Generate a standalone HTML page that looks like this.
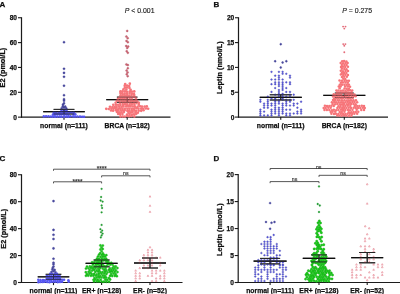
<!DOCTYPE html>
<html><head><meta charset="utf-8"><style>
html,body{margin:0;padding:0;background:#fff;width:400px;height:294px;overflow:hidden}
svg{display:block;font-family:"Liberation Sans", sans-serif}
</style></head><body>
<svg width="400" height="294" viewBox="0 0 400 294">
<defs><filter id="b" filterUnits="userSpaceOnUse" x="0" y="0" width="400" height="294"><feGaussianBlur stdDeviation="0.35"/></filter></defs><rect width="400" height="294" fill="#fff"/>
<g filter="url(#b)">
<line x1="43.20" y1="111.70" x2="84.80" y2="111.70" stroke="#111" stroke-width="1.2"/>
<line x1="53.60" y1="109.40" x2="74.40" y2="109.40" stroke="#222" stroke-width="0.95"/>
<line x1="53.60" y1="114.00" x2="74.40" y2="114.00" stroke="#222" stroke-width="0.95"/>
<line x1="64.00" y1="109.40" x2="64.00" y2="114.00" stroke="#222" stroke-width="0.95"/>
<line x1="106.20" y1="99.70" x2="148.20" y2="99.70" stroke="#111" stroke-width="1.2"/>
<line x1="116.90" y1="97.10" x2="137.50" y2="97.10" stroke="#222" stroke-width="0.95"/>
<line x1="116.90" y1="102.30" x2="137.50" y2="102.30" stroke="#222" stroke-width="0.95"/>
<line x1="127.20" y1="97.10" x2="127.20" y2="102.30" stroke="#222" stroke-width="0.95"/>
<line x1="21.50" y1="17.25" x2="21.50" y2="117.65" stroke="#1a1a1a" stroke-width="1.2"/>
<line x1="21.00" y1="117.15" x2="170.50" y2="117.15" stroke="#1a1a1a" stroke-width="1.2"/>
<line x1="18.00" y1="117.15" x2="21.50" y2="117.15" stroke="#1a1a1a" stroke-width="1.1"/>
<text x="17.00" y="119.55" font-size="6.6" font-weight="bold" text-anchor="end" fill="#111" stroke="#111" stroke-width="0.25" >0</text>
<line x1="18.00" y1="92.30" x2="21.50" y2="92.30" stroke="#1a1a1a" stroke-width="1.1"/>
<text x="17.00" y="94.70" font-size="6.6" font-weight="bold" text-anchor="end" fill="#111" stroke="#111" stroke-width="0.25" >20</text>
<line x1="18.00" y1="67.45" x2="21.50" y2="67.45" stroke="#1a1a1a" stroke-width="1.1"/>
<text x="17.00" y="69.85" font-size="6.6" font-weight="bold" text-anchor="end" fill="#111" stroke="#111" stroke-width="0.25" >40</text>
<line x1="18.00" y1="42.60" x2="21.50" y2="42.60" stroke="#1a1a1a" stroke-width="1.1"/>
<text x="17.00" y="45.00" font-size="6.6" font-weight="bold" text-anchor="end" fill="#111" stroke="#111" stroke-width="0.25" >60</text>
<line x1="18.00" y1="17.75" x2="21.50" y2="17.75" stroke="#1a1a1a" stroke-width="1.1"/>
<text x="17.00" y="20.15" font-size="6.6" font-weight="bold" text-anchor="end" fill="#111" stroke="#111" stroke-width="0.25" >80</text>
<line x1="64.00" y1="117.15" x2="64.00" y2="119.75" stroke="#1a1a1a" stroke-width="1.1"/>
<text x="64.00" y="127.90" font-size="6.8" font-weight="bold" text-anchor="middle" fill="#111" stroke="#111" stroke-width="0.25" >normal (n=111)</text>
<line x1="127.20" y1="117.15" x2="127.20" y2="119.75" stroke="#1a1a1a" stroke-width="1.1"/>
<text x="127.20" y="127.90" font-size="6.8" font-weight="bold" text-anchor="middle" fill="#111" stroke="#111" stroke-width="0.25" >BRCA (n=182)</text>
<text x="0" y="0" font-size="7.3" font-weight="bold" text-anchor="middle" fill="#111" stroke="#111" stroke-width="0.25" transform="translate(5.0,67.6) rotate(-90)">E2 (pmol/L)</text>
<line x1="259.75" y1="97.40" x2="301.75" y2="97.40" stroke="#111" stroke-width="1.2"/>
<line x1="269.75" y1="94.80" x2="291.75" y2="94.80" stroke="#222" stroke-width="0.95"/>
<line x1="269.75" y1="100.00" x2="291.75" y2="100.00" stroke="#222" stroke-width="0.95"/>
<line x1="280.75" y1="94.80" x2="280.75" y2="100.00" stroke="#222" stroke-width="0.95"/>
<line x1="323.20" y1="95.30" x2="365.40" y2="95.30" stroke="#111" stroke-width="1.2"/>
<line x1="334.80" y1="93.00" x2="353.80" y2="93.00" stroke="#222" stroke-width="0.95"/>
<line x1="334.80" y1="97.60" x2="353.80" y2="97.60" stroke="#222" stroke-width="0.95"/>
<line x1="344.30" y1="93.00" x2="344.30" y2="97.60" stroke="#222" stroke-width="0.95"/>
<line x1="238.50" y1="17.25" x2="238.50" y2="117.60" stroke="#1a1a1a" stroke-width="1.2"/>
<line x1="238.00" y1="117.10" x2="388.00" y2="117.10" stroke="#1a1a1a" stroke-width="1.2"/>
<line x1="235.00" y1="117.10" x2="238.50" y2="117.10" stroke="#1a1a1a" stroke-width="1.1"/>
<text x="234.30" y="119.50" font-size="6.6" font-weight="bold" text-anchor="end" fill="#111" stroke="#111" stroke-width="0.25" >0</text>
<line x1="235.00" y1="92.26" x2="238.50" y2="92.26" stroke="#1a1a1a" stroke-width="1.1"/>
<text x="234.30" y="94.66" font-size="6.6" font-weight="bold" text-anchor="end" fill="#111" stroke="#111" stroke-width="0.25" >5</text>
<line x1="235.00" y1="67.42" x2="238.50" y2="67.42" stroke="#1a1a1a" stroke-width="1.1"/>
<text x="234.30" y="69.83" font-size="6.6" font-weight="bold" text-anchor="end" fill="#111" stroke="#111" stroke-width="0.25" >10</text>
<line x1="235.00" y1="42.59" x2="238.50" y2="42.59" stroke="#1a1a1a" stroke-width="1.1"/>
<text x="234.30" y="44.99" font-size="6.6" font-weight="bold" text-anchor="end" fill="#111" stroke="#111" stroke-width="0.25" >15</text>
<line x1="235.00" y1="17.75" x2="238.50" y2="17.75" stroke="#1a1a1a" stroke-width="1.1"/>
<text x="234.30" y="20.15" font-size="6.6" font-weight="bold" text-anchor="end" fill="#111" stroke="#111" stroke-width="0.25" >20</text>
<line x1="280.75" y1="117.10" x2="280.75" y2="119.70" stroke="#1a1a1a" stroke-width="1.1"/>
<text x="280.75" y="127.85" font-size="6.8" font-weight="bold" text-anchor="middle" fill="#111" stroke="#111" stroke-width="0.25" >normal (n=111)</text>
<line x1="344.30" y1="117.10" x2="344.30" y2="119.70" stroke="#1a1a1a" stroke-width="1.1"/>
<text x="344.30" y="127.85" font-size="6.8" font-weight="bold" text-anchor="middle" fill="#111" stroke="#111" stroke-width="0.25" >BRCA (n=182)</text>
<text x="0" y="0" font-size="7.3" font-weight="bold" text-anchor="middle" fill="#111" stroke="#111" stroke-width="0.25" transform="translate(221.6,67.6) rotate(-90)">Leptin (nmol/L)</text>
<line x1="37.75" y1="276.80" x2="69.25" y2="276.80" stroke="#111" stroke-width="1.2"/>
<line x1="45.70" y1="274.30" x2="61.30" y2="274.30" stroke="#222" stroke-width="0.95"/>
<line x1="45.70" y1="279.30" x2="61.30" y2="279.30" stroke="#222" stroke-width="0.95"/>
<line x1="53.50" y1="274.30" x2="53.50" y2="279.30" stroke="#222" stroke-width="0.95"/>
<line x1="85.60" y1="263.40" x2="117.60" y2="263.40" stroke="#111" stroke-width="1.2"/>
<line x1="93.60" y1="260.00" x2="109.60" y2="260.00" stroke="#222" stroke-width="0.95"/>
<line x1="93.60" y1="266.80" x2="109.60" y2="266.80" stroke="#222" stroke-width="0.95"/>
<line x1="101.60" y1="260.00" x2="101.60" y2="266.80" stroke="#222" stroke-width="0.95"/>
<line x1="134.00" y1="263.00" x2="166.00" y2="263.00" stroke="#111" stroke-width="1.2"/>
<line x1="142.00" y1="258.00" x2="158.00" y2="258.00" stroke="#222" stroke-width="0.95"/>
<line x1="142.00" y1="268.00" x2="158.00" y2="268.00" stroke="#222" stroke-width="0.95"/>
<line x1="150.00" y1="258.00" x2="150.00" y2="268.00" stroke="#222" stroke-width="0.95"/>
<line x1="21.50" y1="174.25" x2="21.50" y2="283.00" stroke="#1a1a1a" stroke-width="1.2"/>
<line x1="21.00" y1="282.50" x2="182.50" y2="282.50" stroke="#1a1a1a" stroke-width="1.2"/>
<line x1="18.00" y1="282.50" x2="21.50" y2="282.50" stroke="#1a1a1a" stroke-width="1.1"/>
<text x="17.00" y="284.90" font-size="6.6" font-weight="bold" text-anchor="end" fill="#111" stroke="#111" stroke-width="0.25" >0</text>
<line x1="18.00" y1="255.56" x2="21.50" y2="255.56" stroke="#1a1a1a" stroke-width="1.1"/>
<text x="17.00" y="257.96" font-size="6.6" font-weight="bold" text-anchor="end" fill="#111" stroke="#111" stroke-width="0.25" >20</text>
<line x1="18.00" y1="228.62" x2="21.50" y2="228.62" stroke="#1a1a1a" stroke-width="1.1"/>
<text x="17.00" y="231.03" font-size="6.6" font-weight="bold" text-anchor="end" fill="#111" stroke="#111" stroke-width="0.25" >40</text>
<line x1="18.00" y1="201.69" x2="21.50" y2="201.69" stroke="#1a1a1a" stroke-width="1.1"/>
<text x="17.00" y="204.09" font-size="6.6" font-weight="bold" text-anchor="end" fill="#111" stroke="#111" stroke-width="0.25" >60</text>
<line x1="18.00" y1="174.75" x2="21.50" y2="174.75" stroke="#1a1a1a" stroke-width="1.1"/>
<text x="17.00" y="177.15" font-size="6.6" font-weight="bold" text-anchor="end" fill="#111" stroke="#111" stroke-width="0.25" >80</text>
<line x1="53.50" y1="282.50" x2="53.50" y2="285.10" stroke="#1a1a1a" stroke-width="1.1"/>
<text x="53.50" y="293.25" font-size="6.8" font-weight="bold" text-anchor="middle" fill="#111" stroke="#111" stroke-width="0.25" >normal (n=111)</text>
<line x1="101.60" y1="282.50" x2="101.60" y2="285.10" stroke="#1a1a1a" stroke-width="1.1"/>
<text x="101.60" y="293.25" font-size="6.8" font-weight="bold" text-anchor="middle" fill="#111" stroke="#111" stroke-width="0.25" >ER+ (n=128)</text>
<line x1="150.00" y1="282.50" x2="150.00" y2="285.10" stroke="#1a1a1a" stroke-width="1.1"/>
<text x="150.00" y="293.25" font-size="6.8" font-weight="bold" text-anchor="middle" fill="#111" stroke="#111" stroke-width="0.25" >ER- (n=52)</text>
<text x="0" y="0" font-size="7.3" font-weight="bold" text-anchor="middle" fill="#111" stroke="#111" stroke-width="0.25" transform="translate(5.5,228.8) rotate(-90)">E2 (pmol/L)</text>
<line x1="253.60" y1="261.15" x2="286.60" y2="261.15" stroke="#111" stroke-width="1.2"/>
<line x1="260.10" y1="258.40" x2="280.10" y2="258.40" stroke="#222" stroke-width="0.95"/>
<line x1="260.10" y1="263.90" x2="280.10" y2="263.90" stroke="#222" stroke-width="0.95"/>
<line x1="270.10" y1="258.40" x2="270.10" y2="263.90" stroke="#222" stroke-width="0.95"/>
<line x1="302.80" y1="258.40" x2="335.20" y2="258.40" stroke="#111" stroke-width="1.2"/>
<line x1="311.10" y1="254.90" x2="326.90" y2="254.90" stroke="#222" stroke-width="0.95"/>
<line x1="311.10" y1="261.90" x2="326.90" y2="261.90" stroke="#222" stroke-width="0.95"/>
<line x1="319.00" y1="254.90" x2="319.00" y2="261.90" stroke="#222" stroke-width="0.95"/>
<line x1="351.20" y1="257.70" x2="383.20" y2="257.70" stroke="#111" stroke-width="1.2"/>
<line x1="359.20" y1="252.50" x2="375.20" y2="252.50" stroke="#222" stroke-width="0.95"/>
<line x1="359.20" y1="262.80" x2="375.20" y2="262.80" stroke="#222" stroke-width="0.95"/>
<line x1="367.20" y1="252.50" x2="367.20" y2="262.80" stroke="#222" stroke-width="0.95"/>
<line x1="238.20" y1="174.10" x2="238.20" y2="283.00" stroke="#1a1a1a" stroke-width="1.2"/>
<line x1="237.70" y1="282.50" x2="400.50" y2="282.50" stroke="#1a1a1a" stroke-width="1.2"/>
<line x1="234.70" y1="282.50" x2="238.20" y2="282.50" stroke="#1a1a1a" stroke-width="1.1"/>
<text x="233.90" y="284.90" font-size="6.6" font-weight="bold" text-anchor="end" fill="#111" stroke="#111" stroke-width="0.25" >0</text>
<line x1="234.70" y1="255.53" x2="238.20" y2="255.53" stroke="#1a1a1a" stroke-width="1.1"/>
<text x="233.90" y="257.93" font-size="6.6" font-weight="bold" text-anchor="end" fill="#111" stroke="#111" stroke-width="0.25" >5</text>
<line x1="234.70" y1="228.55" x2="238.20" y2="228.55" stroke="#1a1a1a" stroke-width="1.1"/>
<text x="233.90" y="230.95" font-size="6.6" font-weight="bold" text-anchor="end" fill="#111" stroke="#111" stroke-width="0.25" >10</text>
<line x1="234.70" y1="201.57" x2="238.20" y2="201.57" stroke="#1a1a1a" stroke-width="1.1"/>
<text x="233.90" y="203.97" font-size="6.6" font-weight="bold" text-anchor="end" fill="#111" stroke="#111" stroke-width="0.25" >15</text>
<line x1="234.70" y1="174.60" x2="238.20" y2="174.60" stroke="#1a1a1a" stroke-width="1.1"/>
<text x="233.90" y="177.00" font-size="6.6" font-weight="bold" text-anchor="end" fill="#111" stroke="#111" stroke-width="0.25" >20</text>
<line x1="270.10" y1="282.50" x2="270.10" y2="285.10" stroke="#1a1a1a" stroke-width="1.1"/>
<text x="270.10" y="293.25" font-size="6.8" font-weight="bold" text-anchor="middle" fill="#111" stroke="#111" stroke-width="0.25" >normal (n=111)</text>
<line x1="319.00" y1="282.50" x2="319.00" y2="285.10" stroke="#1a1a1a" stroke-width="1.1"/>
<text x="319.00" y="293.25" font-size="6.8" font-weight="bold" text-anchor="middle" fill="#111" stroke="#111" stroke-width="0.25" >ER+ (n=128)</text>
<line x1="367.20" y1="282.50" x2="367.20" y2="285.10" stroke="#1a1a1a" stroke-width="1.1"/>
<text x="367.20" y="293.25" font-size="6.8" font-weight="bold" text-anchor="middle" fill="#111" stroke="#111" stroke-width="0.25" >ER- (n=52)</text>
<text x="0" y="0" font-size="7.3" font-weight="bold" text-anchor="middle" fill="#111" stroke="#111" stroke-width="0.25" transform="translate(221.7,229.6) rotate(-90)">Leptin (nmol/L)</text>
<g fill="#4a4aa0" stroke="#383890" stroke-width="0.4">
<circle cx="64.00" cy="42.20" r="1.05"/>
<circle cx="64.00" cy="68.80" r="1.05"/>
<circle cx="64.00" cy="72.90" r="1.05"/>
<circle cx="64.00" cy="76.80" r="1.05"/>
<circle cx="64.00" cy="85.70" r="1.05"/>
<circle cx="64.00" cy="95.20" r="1.05"/>
<circle cx="64.00" cy="99.20" r="1.05"/>
<circle cx="64.00" cy="100.80" r="1.05"/>
<circle cx="64.00" cy="103.30" r="1.05"/>
<circle cx="63.00" cy="104.60" r="1.05"/>
<circle cx="62.80" cy="106.40" r="1.05"/>
<circle cx="65.20" cy="106.60" r="1.05"/>
<circle cx="64.00" cy="107.60" r="1.05"/>
<circle cx="61.70" cy="108.20" r="1.05"/>
<circle cx="66.30" cy="108.40" r="1.05"/>
</g>
<g fill="#5656f2">
<circle cx="43.78" cy="116.42" r="1.3"/>
<circle cx="46.08" cy="116.24" r="1.3"/>
<circle cx="48.45" cy="116.36" r="1.3"/>
<circle cx="50.80" cy="116.48" r="1.3"/>
<circle cx="52.74" cy="116.58" r="1.3"/>
<circle cx="55.08" cy="116.72" r="1.3"/>
<circle cx="57.39" cy="116.60" r="1.3"/>
<circle cx="59.65" cy="116.55" r="1.3"/>
<circle cx="61.47" cy="116.72" r="1.3"/>
<circle cx="64.13" cy="116.73" r="1.3"/>
<circle cx="66.50" cy="116.44" r="1.3"/>
<circle cx="68.47" cy="116.76" r="1.3"/>
<circle cx="70.51" cy="116.28" r="1.3"/>
<circle cx="73.28" cy="116.46" r="1.3"/>
<circle cx="75.13" cy="116.50" r="1.3"/>
<circle cx="77.41" cy="116.55" r="1.3"/>
<circle cx="79.99" cy="116.61" r="1.3"/>
<circle cx="82.21" cy="116.79" r="1.3"/>
<circle cx="84.05" cy="116.72" r="1.3"/>
<circle cx="52.99" cy="114.59" r="1.3"/>
<circle cx="54.83" cy="114.75" r="1.3"/>
<circle cx="57.12" cy="114.29" r="1.3"/>
<circle cx="59.79" cy="114.30" r="1.3"/>
<circle cx="61.70" cy="114.34" r="1.3"/>
<circle cx="64.16" cy="114.77" r="1.3"/>
<circle cx="66.32" cy="114.28" r="1.3"/>
<circle cx="68.40" cy="114.78" r="1.3"/>
<circle cx="73.30" cy="114.44" r="1.3"/>
<circle cx="75.31" cy="114.27" r="1.3"/>
<circle cx="53.82" cy="112.67" r="1.3"/>
<circle cx="55.85" cy="112.82" r="1.3"/>
<circle cx="58.65" cy="112.84" r="1.3"/>
<circle cx="60.60" cy="112.61" r="1.3"/>
<circle cx="62.93" cy="112.64" r="1.3"/>
<circle cx="65.39" cy="112.60" r="1.3"/>
<circle cx="67.51" cy="112.44" r="1.3"/>
<circle cx="69.91" cy="112.61" r="1.3"/>
<circle cx="71.58" cy="112.55" r="1.3"/>
<circle cx="73.84" cy="112.67" r="1.3"/>
<circle cx="61.49" cy="110.73" r="1.3"/>
<circle cx="64.11" cy="110.56" r="1.3"/>
<circle cx="66.39" cy="110.36" r="1.3"/>
</g>
<g fill="#d06474" stroke="#a84a5a" stroke-width="0.35">
<circle cx="127.20" cy="30.90" r="1.0"/>
<circle cx="126.40" cy="36.60" r="1.0"/>
<circle cx="127.70" cy="38.20" r="1.0"/>
<circle cx="126.50" cy="40.90" r="1.0"/>
<circle cx="127.90" cy="42.20" r="1.0"/>
<circle cx="126.20" cy="46.00" r="1.0"/>
<circle cx="128.20" cy="46.60" r="1.0"/>
<circle cx="127.20" cy="48.00" r="1.0"/>
<circle cx="126.70" cy="51.20" r="1.0"/>
<circle cx="127.80" cy="52.80" r="1.0"/>
<circle cx="126.40" cy="64.40" r="1.0"/>
<circle cx="127.90" cy="65.10" r="1.0"/>
<circle cx="127.80" cy="68.30" r="1.0"/>
<circle cx="126.60" cy="70.60" r="1.0"/>
<circle cx="127.60" cy="72.40" r="1.0"/>
<circle cx="126.70" cy="74.30" r="1.0"/>
<circle cx="127.70" cy="76.20" r="1.0"/>
</g>
<g fill="#f67479">
<circle cx="120.47" cy="116.41" r="1.32"/>
<circle cx="122.77" cy="116.50" r="1.32"/>
<circle cx="124.88" cy="116.51" r="1.32"/>
<circle cx="127.48" cy="115.93" r="1.32"/>
<circle cx="129.32" cy="116.23" r="1.32"/>
<circle cx="131.46" cy="116.00" r="1.32"/>
<circle cx="134.39" cy="116.39" r="1.32"/>
<circle cx="118.21" cy="114.05" r="1.32"/>
<circle cx="120.04" cy="113.95" r="1.32"/>
<circle cx="122.40" cy="114.10" r="1.32"/>
<circle cx="127.05" cy="114.62" r="1.32"/>
<circle cx="129.62" cy="114.09" r="1.32"/>
<circle cx="131.93" cy="114.63" r="1.32"/>
<circle cx="133.96" cy="114.20" r="1.32"/>
<circle cx="136.15" cy="114.00" r="1.32"/>
<circle cx="116.92" cy="112.05" r="1.32"/>
<circle cx="119.04" cy="112.27" r="1.32"/>
<circle cx="121.44" cy="112.27" r="1.32"/>
<circle cx="123.89" cy="112.09" r="1.32"/>
<circle cx="128.52" cy="112.64" r="1.32"/>
<circle cx="130.85" cy="112.31" r="1.32"/>
<circle cx="132.61" cy="112.08" r="1.32"/>
<circle cx="135.57" cy="112.19" r="1.32"/>
<circle cx="137.85" cy="112.71" r="1.32"/>
<circle cx="111.00" cy="110.52" r="1.32"/>
<circle cx="113.13" cy="110.67" r="1.32"/>
<circle cx="115.95" cy="110.18" r="1.32"/>
<circle cx="117.71" cy="110.39" r="1.32"/>
<circle cx="120.59" cy="110.39" r="1.32"/>
<circle cx="122.63" cy="110.37" r="1.32"/>
<circle cx="124.67" cy="110.20" r="1.32"/>
<circle cx="127.33" cy="110.85" r="1.32"/>
<circle cx="129.18" cy="110.84" r="1.32"/>
<circle cx="131.73" cy="110.32" r="1.32"/>
<circle cx="134.33" cy="110.47" r="1.32"/>
<circle cx="136.09" cy="110.79" r="1.32"/>
<circle cx="138.70" cy="110.74" r="1.32"/>
<circle cx="141.16" cy="110.81" r="1.32"/>
<circle cx="143.50" cy="110.22" r="1.32"/>
<circle cx="106.25" cy="108.84" r="1.32"/>
<circle cx="108.77" cy="108.95" r="1.32"/>
<circle cx="111.43" cy="108.57" r="1.32"/>
<circle cx="113.56" cy="108.59" r="1.32"/>
<circle cx="115.63" cy="108.35" r="1.32"/>
<circle cx="118.34" cy="108.92" r="1.32"/>
<circle cx="120.30" cy="108.49" r="1.32"/>
<circle cx="122.44" cy="108.80" r="1.32"/>
<circle cx="124.80" cy="108.80" r="1.32"/>
<circle cx="127.34" cy="108.71" r="1.32"/>
<circle cx="129.40" cy="108.74" r="1.32"/>
<circle cx="131.79" cy="108.79" r="1.32"/>
<circle cx="133.96" cy="108.91" r="1.32"/>
<circle cx="136.46" cy="108.26" r="1.32"/>
<circle cx="138.53" cy="108.72" r="1.32"/>
<circle cx="141.22" cy="108.70" r="1.32"/>
<circle cx="143.19" cy="108.70" r="1.32"/>
<circle cx="145.83" cy="108.50" r="1.32"/>
<circle cx="148.16" cy="108.73" r="1.32"/>
<circle cx="109.96" cy="106.72" r="1.32"/>
<circle cx="112.49" cy="107.01" r="1.32"/>
<circle cx="114.68" cy="106.85" r="1.32"/>
<circle cx="116.62" cy="106.90" r="1.32"/>
<circle cx="119.27" cy="106.64" r="1.32"/>
<circle cx="121.64" cy="106.80" r="1.32"/>
<circle cx="123.42" cy="106.46" r="1.32"/>
<circle cx="126.16" cy="106.50" r="1.32"/>
<circle cx="128.44" cy="106.38" r="1.32"/>
<circle cx="130.46" cy="106.39" r="1.32"/>
<circle cx="132.82" cy="106.48" r="1.32"/>
<circle cx="134.92" cy="106.68" r="1.32"/>
<circle cx="137.63" cy="106.76" r="1.32"/>
<circle cx="140.13" cy="106.35" r="1.32"/>
<circle cx="141.99" cy="106.64" r="1.32"/>
<circle cx="144.68" cy="106.61" r="1.32"/>
<circle cx="146.83" cy="106.42" r="1.32"/>
<circle cx="113.29" cy="104.86" r="1.32"/>
<circle cx="115.92" cy="104.74" r="1.32"/>
<circle cx="118.10" cy="104.71" r="1.32"/>
<circle cx="120.37" cy="104.84" r="1.32"/>
<circle cx="122.93" cy="104.88" r="1.32"/>
<circle cx="125.18" cy="104.45" r="1.32"/>
<circle cx="127.25" cy="104.88" r="1.32"/>
<circle cx="129.59" cy="105.07" r="1.32"/>
<circle cx="131.75" cy="104.61" r="1.32"/>
<circle cx="134.43" cy="104.72" r="1.32"/>
<circle cx="138.77" cy="104.63" r="1.32"/>
<circle cx="115.64" cy="102.77" r="1.32"/>
<circle cx="120.15" cy="102.88" r="1.32"/>
<circle cx="122.69" cy="102.86" r="1.32"/>
<circle cx="125.10" cy="103.13" r="1.32"/>
<circle cx="127.22" cy="102.74" r="1.32"/>
<circle cx="129.70" cy="102.72" r="1.32"/>
<circle cx="131.56" cy="103.24" r="1.32"/>
<circle cx="134.18" cy="102.88" r="1.32"/>
<circle cx="136.47" cy="103.07" r="1.32"/>
<circle cx="138.88" cy="102.76" r="1.32"/>
<circle cx="116.74" cy="100.86" r="1.32"/>
<circle cx="119.13" cy="100.90" r="1.32"/>
<circle cx="121.51" cy="100.68" r="1.32"/>
<circle cx="123.72" cy="101.29" r="1.32"/>
<circle cx="126.08" cy="100.66" r="1.32"/>
<circle cx="128.30" cy="101.05" r="1.32"/>
<circle cx="130.74" cy="100.99" r="1.32"/>
<circle cx="132.87" cy="100.92" r="1.32"/>
<circle cx="135.04" cy="100.86" r="1.32"/>
<circle cx="137.25" cy="101.24" r="1.32"/>
<circle cx="117.95" cy="98.95" r="1.32"/>
<circle cx="120.59" cy="98.85" r="1.32"/>
<circle cx="122.63" cy="99.10" r="1.32"/>
<circle cx="124.66" cy="99.16" r="1.32"/>
<circle cx="126.90" cy="98.91" r="1.32"/>
<circle cx="129.70" cy="99.21" r="1.32"/>
<circle cx="131.96" cy="99.44" r="1.32"/>
<circle cx="136.08" cy="99.34" r="1.32"/>
<circle cx="119.25" cy="97.52" r="1.32"/>
<circle cx="121.19" cy="97.05" r="1.32"/>
<circle cx="123.50" cy="97.28" r="1.32"/>
<circle cx="125.81" cy="97.29" r="1.32"/>
<circle cx="128.08" cy="97.12" r="1.32"/>
<circle cx="130.34" cy="97.25" r="1.32"/>
<circle cx="133.21" cy="96.94" r="1.32"/>
<circle cx="135.12" cy="97.27" r="1.32"/>
<circle cx="120.61" cy="95.21" r="1.32"/>
<circle cx="122.74" cy="95.06" r="1.32"/>
<circle cx="124.90" cy="95.59" r="1.32"/>
<circle cx="127.28" cy="95.13" r="1.32"/>
<circle cx="129.33" cy="95.48" r="1.32"/>
<circle cx="131.54" cy="95.11" r="1.32"/>
<circle cx="134.27" cy="95.08" r="1.32"/>
<circle cx="120.41" cy="93.11" r="1.32"/>
<circle cx="122.31" cy="93.14" r="1.32"/>
<circle cx="124.72" cy="93.66" r="1.32"/>
<circle cx="127.08" cy="93.61" r="1.32"/>
<circle cx="129.66" cy="93.09" r="1.32"/>
<circle cx="132.12" cy="93.53" r="1.32"/>
<circle cx="133.83" cy="93.73" r="1.32"/>
<circle cx="120.52" cy="91.25" r="1.32"/>
<circle cx="122.50" cy="91.31" r="1.32"/>
<circle cx="124.98" cy="91.39" r="1.32"/>
<circle cx="126.95" cy="91.73" r="1.32"/>
<circle cx="129.71" cy="91.45" r="1.32"/>
<circle cx="131.81" cy="91.56" r="1.32"/>
<circle cx="134.27" cy="91.43" r="1.32"/>
<circle cx="123.42" cy="89.39" r="1.32"/>
<circle cx="126.32" cy="89.59" r="1.32"/>
<circle cx="130.63" cy="89.87" r="1.32"/>
<circle cx="124.85" cy="87.68" r="1.32"/>
<circle cx="126.96" cy="87.46" r="1.32"/>
<circle cx="129.42" cy="87.97" r="1.32"/>
<circle cx="124.73" cy="85.64" r="1.32"/>
<circle cx="127.05" cy="85.61" r="1.32"/>
<circle cx="129.17" cy="86.10" r="1.32"/>
<circle cx="125.21" cy="84.03" r="1.32"/>
<circle cx="129.81" cy="83.63" r="1.32"/>
</g>
<g fill="#4a4aa0" stroke="#383890" stroke-width="0.4">
<circle cx="280.75" cy="44.20" r="0.95"/>
<circle cx="275.15" cy="61.25" r="0.95"/>
<circle cx="286.35" cy="61.25" r="0.95"/>
<circle cx="282.60" cy="62.50" r="0.95"/>
<circle cx="280.75" cy="67.50" r="0.95"/>
</g>
<g fill="#5c5cf2" stroke="#383890" stroke-width="0.35">
<circle cx="278.90" cy="79.50" r="0.85"/>
<circle cx="282.60" cy="79.50" r="0.85"/>
<circle cx="275.20" cy="79.50" r="0.85"/>
<circle cx="271.50" cy="79.50" r="0.85"/>
<circle cx="278.90" cy="77.58" r="0.85"/>
<circle cx="290.00" cy="77.58" r="0.85"/>
<circle cx="278.90" cy="75.66" r="0.85"/>
<circle cx="275.20" cy="75.66" r="0.85"/>
<circle cx="290.00" cy="75.66" r="0.85"/>
<circle cx="282.60" cy="73.74" r="0.85"/>
<circle cx="286.30" cy="73.74" r="0.85"/>
<circle cx="278.90" cy="71.82" r="0.85"/>
<circle cx="282.60" cy="71.82" r="0.85"/>
<circle cx="271.50" cy="71.82" r="0.85"/>
<circle cx="278.90" cy="93.80" r="0.85"/>
<circle cx="282.60" cy="93.80" r="0.85"/>
<circle cx="278.90" cy="91.88" r="0.85"/>
<circle cx="286.30" cy="91.88" r="0.85"/>
<circle cx="271.50" cy="91.88" r="0.85"/>
<circle cx="290.00" cy="91.88" r="0.85"/>
<circle cx="278.90" cy="89.96" r="0.85"/>
<circle cx="282.60" cy="89.96" r="0.85"/>
<circle cx="282.60" cy="88.04" r="0.85"/>
<circle cx="275.20" cy="88.04" r="0.85"/>
<circle cx="286.30" cy="88.04" r="0.85"/>
<circle cx="278.90" cy="86.12" r="0.85"/>
<circle cx="282.60" cy="86.12" r="0.85"/>
<circle cx="278.90" cy="84.20" r="0.85"/>
<circle cx="282.60" cy="84.20" r="0.85"/>
<circle cx="275.20" cy="84.20" r="0.85"/>
<circle cx="271.50" cy="84.20" r="0.85"/>
<circle cx="290.00" cy="84.20" r="0.85"/>
<circle cx="278.90" cy="82.28" r="0.85"/>
<circle cx="282.60" cy="82.28" r="0.85"/>
<circle cx="275.20" cy="82.28" r="0.85"/>
<circle cx="286.30" cy="82.28" r="0.85"/>
<circle cx="290.00" cy="82.28" r="0.85"/>
<circle cx="282.60" cy="98.50" r="0.85"/>
<circle cx="275.20" cy="98.50" r="0.85"/>
<circle cx="271.50" cy="98.50" r="0.85"/>
<circle cx="278.90" cy="96.58" r="0.85"/>
<circle cx="282.60" cy="96.58" r="0.85"/>
<circle cx="286.30" cy="96.58" r="0.85"/>
<circle cx="290.00" cy="96.58" r="0.85"/>
<circle cx="267.80" cy="96.58" r="0.85"/>
<circle cx="278.90" cy="94.66" r="0.85"/>
<circle cx="282.60" cy="94.66" r="0.85"/>
<circle cx="275.20" cy="94.66" r="0.85"/>
<circle cx="290.00" cy="94.66" r="0.85"/>
<circle cx="293.70" cy="94.66" r="0.85"/>
<circle cx="282.60" cy="105.50" r="0.85"/>
<circle cx="275.20" cy="105.50" r="0.85"/>
<circle cx="286.30" cy="105.50" r="0.85"/>
<circle cx="271.50" cy="105.50" r="0.85"/>
<circle cx="290.00" cy="105.50" r="0.85"/>
<circle cx="267.80" cy="105.50" r="0.85"/>
<circle cx="293.70" cy="105.50" r="0.85"/>
<circle cx="264.10" cy="105.50" r="0.85"/>
<circle cx="278.90" cy="103.58" r="0.85"/>
<circle cx="282.60" cy="103.58" r="0.85"/>
<circle cx="275.20" cy="103.58" r="0.85"/>
<circle cx="286.30" cy="103.58" r="0.85"/>
<circle cx="271.50" cy="103.58" r="0.85"/>
<circle cx="267.80" cy="103.58" r="0.85"/>
<circle cx="293.70" cy="103.58" r="0.85"/>
<circle cx="264.10" cy="103.58" r="0.85"/>
<circle cx="297.40" cy="103.58" r="0.85"/>
<circle cx="278.90" cy="101.66" r="0.85"/>
<circle cx="275.20" cy="101.66" r="0.85"/>
<circle cx="286.30" cy="101.66" r="0.85"/>
<circle cx="290.00" cy="101.66" r="0.85"/>
<circle cx="267.80" cy="101.66" r="0.85"/>
<circle cx="260.40" cy="101.66" r="0.85"/>
<circle cx="301.10" cy="101.66" r="0.85"/>
<circle cx="278.90" cy="99.74" r="0.85"/>
<circle cx="282.60" cy="99.74" r="0.85"/>
<circle cx="275.20" cy="99.74" r="0.85"/>
<circle cx="286.30" cy="99.74" r="0.85"/>
<circle cx="290.00" cy="99.74" r="0.85"/>
<circle cx="267.80" cy="99.74" r="0.85"/>
<circle cx="293.70" cy="99.74" r="0.85"/>
<circle cx="260.40" cy="99.74" r="0.85"/>
<circle cx="278.90" cy="115.40" r="0.85"/>
<circle cx="286.30" cy="115.40" r="0.85"/>
<circle cx="271.50" cy="115.40" r="0.85"/>
<circle cx="290.00" cy="115.40" r="0.85"/>
<circle cx="267.80" cy="115.40" r="0.85"/>
<circle cx="264.10" cy="115.40" r="0.85"/>
<circle cx="260.40" cy="115.40" r="0.85"/>
<circle cx="278.90" cy="113.48" r="0.85"/>
<circle cx="282.60" cy="113.48" r="0.85"/>
<circle cx="275.20" cy="113.48" r="0.85"/>
<circle cx="286.30" cy="113.48" r="0.85"/>
<circle cx="271.50" cy="113.48" r="0.85"/>
<circle cx="290.00" cy="113.48" r="0.85"/>
<circle cx="293.70" cy="113.48" r="0.85"/>
<circle cx="297.40" cy="113.48" r="0.85"/>
<circle cx="260.40" cy="113.48" r="0.85"/>
<circle cx="301.10" cy="113.48" r="0.85"/>
<circle cx="278.90" cy="111.56" r="0.85"/>
<circle cx="282.60" cy="111.56" r="0.85"/>
<circle cx="275.20" cy="111.56" r="0.85"/>
<circle cx="271.50" cy="111.56" r="0.85"/>
<circle cx="264.10" cy="111.56" r="0.85"/>
<circle cx="297.40" cy="111.56" r="0.85"/>
<circle cx="260.40" cy="111.56" r="0.85"/>
<circle cx="301.10" cy="111.56" r="0.85"/>
<circle cx="278.90" cy="109.64" r="0.85"/>
<circle cx="282.60" cy="109.64" r="0.85"/>
<circle cx="275.20" cy="109.64" r="0.85"/>
<circle cx="286.30" cy="109.64" r="0.85"/>
<circle cx="271.50" cy="109.64" r="0.85"/>
<circle cx="290.00" cy="109.64" r="0.85"/>
<circle cx="260.40" cy="109.64" r="0.85"/>
<circle cx="301.10" cy="109.64" r="0.85"/>
<circle cx="278.90" cy="107.72" r="0.85"/>
<circle cx="282.60" cy="107.72" r="0.85"/>
<circle cx="275.20" cy="107.72" r="0.85"/>
<circle cx="267.80" cy="107.72" r="0.85"/>
<circle cx="264.10" cy="107.72" r="0.85"/>
<circle cx="297.40" cy="107.72" r="0.85"/>
</g>
<g fill="#e46c7a">
<circle cx="343.10" cy="26.60" r="0.95"/>
<circle cx="345.50" cy="26.60" r="0.95"/>
<circle cx="344.30" cy="28.60" r="0.95"/>
<circle cx="343.20" cy="44.10" r="0.95"/>
<circle cx="345.40" cy="44.10" r="0.95"/>
<circle cx="344.30" cy="45.70" r="0.95"/>
<circle cx="344.30" cy="52.20" r="0.95"/>
</g>
<g fill="#f67479">
<circle cx="344.24" cy="115.62" r="1.25"/>
<circle cx="341.75" cy="115.80" r="1.25"/>
<circle cx="346.39" cy="115.83" r="1.25"/>
<circle cx="339.47" cy="115.74" r="1.25"/>
<circle cx="348.88" cy="115.91" r="1.25"/>
<circle cx="337.27" cy="115.61" r="1.25"/>
<circle cx="351.41" cy="115.85" r="1.25"/>
<circle cx="343.09" cy="113.97" r="1.25"/>
<circle cx="345.35" cy="113.94" r="1.25"/>
<circle cx="340.81" cy="113.64" r="1.25"/>
<circle cx="347.60" cy="113.74" r="1.25"/>
<circle cx="338.40" cy="114.04" r="1.25"/>
<circle cx="349.83" cy="113.79" r="1.25"/>
<circle cx="336.01" cy="113.81" r="1.25"/>
<circle cx="352.16" cy="113.90" r="1.25"/>
<circle cx="333.99" cy="114.05" r="1.25"/>
<circle cx="354.40" cy="113.64" r="1.25"/>
<circle cx="331.41" cy="113.64" r="1.25"/>
<circle cx="357.16" cy="113.81" r="1.25"/>
<circle cx="344.37" cy="111.70" r="1.25"/>
<circle cx="341.84" cy="111.95" r="1.25"/>
<circle cx="339.73" cy="111.95" r="1.25"/>
<circle cx="348.78" cy="112.15" r="1.25"/>
<circle cx="351.30" cy="112.13" r="1.25"/>
<circle cx="335.16" cy="111.67" r="1.25"/>
<circle cx="353.59" cy="111.95" r="1.25"/>
<circle cx="332.59" cy="111.82" r="1.25"/>
<circle cx="355.84" cy="111.88" r="1.25"/>
<circle cx="330.74" cy="111.94" r="1.25"/>
<circle cx="358.25" cy="111.81" r="1.25"/>
<circle cx="343.01" cy="109.92" r="1.25"/>
<circle cx="345.24" cy="110.01" r="1.25"/>
<circle cx="340.99" cy="109.71" r="1.25"/>
<circle cx="347.90" cy="109.95" r="1.25"/>
<circle cx="338.42" cy="110.07" r="1.25"/>
<circle cx="349.92" cy="110.18" r="1.25"/>
<circle cx="336.19" cy="110.13" r="1.25"/>
<circle cx="352.43" cy="109.79" r="1.25"/>
<circle cx="333.83" cy="109.73" r="1.25"/>
<circle cx="331.87" cy="110.19" r="1.25"/>
<circle cx="356.71" cy="109.73" r="1.25"/>
<circle cx="329.29" cy="110.01" r="1.25"/>
<circle cx="326.87" cy="109.98" r="1.25"/>
<circle cx="361.34" cy="109.98" r="1.25"/>
<circle cx="324.53" cy="109.93" r="1.25"/>
<circle cx="363.98" cy="109.89" r="1.25"/>
<circle cx="344.13" cy="108.11" r="1.25"/>
<circle cx="342.19" cy="108.00" r="1.25"/>
<circle cx="346.37" cy="108.01" r="1.25"/>
<circle cx="339.76" cy="107.79" r="1.25"/>
<circle cx="348.76" cy="107.76" r="1.25"/>
<circle cx="337.38" cy="108.03" r="1.25"/>
<circle cx="351.04" cy="107.99" r="1.25"/>
<circle cx="353.72" cy="107.76" r="1.25"/>
<circle cx="355.82" cy="108.01" r="1.25"/>
<circle cx="330.70" cy="107.78" r="1.25"/>
<circle cx="358.12" cy="107.90" r="1.25"/>
<circle cx="328.31" cy="107.80" r="1.25"/>
<circle cx="360.38" cy="108.00" r="1.25"/>
<circle cx="325.68" cy="108.05" r="1.25"/>
<circle cx="362.89" cy="107.87" r="1.25"/>
<circle cx="323.71" cy="108.06" r="1.25"/>
<circle cx="364.77" cy="108.05" r="1.25"/>
<circle cx="343.24" cy="106.00" r="1.25"/>
<circle cx="345.29" cy="106.10" r="1.25"/>
<circle cx="340.63" cy="105.98" r="1.25"/>
<circle cx="347.77" cy="105.81" r="1.25"/>
<circle cx="338.47" cy="106.19" r="1.25"/>
<circle cx="350.28" cy="106.10" r="1.25"/>
<circle cx="333.75" cy="105.97" r="1.25"/>
<circle cx="354.79" cy="105.90" r="1.25"/>
<circle cx="331.46" cy="105.86" r="1.25"/>
<circle cx="357.19" cy="105.99" r="1.25"/>
<circle cx="329.33" cy="106.06" r="1.25"/>
<circle cx="359.32" cy="105.92" r="1.25"/>
<circle cx="327.06" cy="105.90" r="1.25"/>
<circle cx="361.77" cy="105.81" r="1.25"/>
<circle cx="324.90" cy="105.83" r="1.25"/>
<circle cx="364.03" cy="106.10" r="1.25"/>
<circle cx="344.08" cy="103.99" r="1.25"/>
<circle cx="342.15" cy="104.34" r="1.25"/>
<circle cx="346.80" cy="104.32" r="1.25"/>
<circle cx="339.91" cy="104.33" r="1.25"/>
<circle cx="348.81" cy="103.97" r="1.25"/>
<circle cx="337.40" cy="104.02" r="1.25"/>
<circle cx="351.15" cy="103.95" r="1.25"/>
<circle cx="335.08" cy="104.16" r="1.25"/>
<circle cx="353.47" cy="103.94" r="1.25"/>
<circle cx="332.71" cy="103.94" r="1.25"/>
<circle cx="355.64" cy="104.21" r="1.25"/>
<circle cx="342.97" cy="102.21" r="1.25"/>
<circle cx="345.42" cy="102.20" r="1.25"/>
<circle cx="341.04" cy="102.27" r="1.25"/>
<circle cx="347.77" cy="102.07" r="1.25"/>
<circle cx="338.58" cy="102.14" r="1.25"/>
<circle cx="349.96" cy="102.32" r="1.25"/>
<circle cx="336.05" cy="102.26" r="1.25"/>
<circle cx="352.37" cy="101.94" r="1.25"/>
<circle cx="334.16" cy="101.92" r="1.25"/>
<circle cx="354.48" cy="101.95" r="1.25"/>
<circle cx="331.90" cy="102.22" r="1.25"/>
<circle cx="357.14" cy="102.15" r="1.25"/>
<circle cx="344.40" cy="100.13" r="1.25"/>
<circle cx="341.91" cy="100.14" r="1.25"/>
<circle cx="346.66" cy="100.38" r="1.25"/>
<circle cx="339.45" cy="100.29" r="1.25"/>
<circle cx="348.89" cy="100.38" r="1.25"/>
<circle cx="337.60" cy="100.33" r="1.25"/>
<circle cx="351.02" cy="100.18" r="1.25"/>
<circle cx="334.97" cy="100.12" r="1.25"/>
<circle cx="353.42" cy="100.25" r="1.25"/>
<circle cx="333.01" cy="99.96" r="1.25"/>
<circle cx="355.94" cy="100.28" r="1.25"/>
<circle cx="342.97" cy="98.11" r="1.25"/>
<circle cx="345.65" cy="98.11" r="1.25"/>
<circle cx="340.94" cy="98.21" r="1.25"/>
<circle cx="348.00" cy="98.47" r="1.25"/>
<circle cx="338.55" cy="98.03" r="1.25"/>
<circle cx="350.00" cy="98.23" r="1.25"/>
<circle cx="336.48" cy="98.28" r="1.25"/>
<circle cx="352.58" cy="98.04" r="1.25"/>
<circle cx="334.14" cy="98.38" r="1.25"/>
<circle cx="344.32" cy="96.52" r="1.25"/>
<circle cx="342.09" cy="96.54" r="1.25"/>
<circle cx="346.38" cy="96.48" r="1.25"/>
<circle cx="339.55" cy="96.47" r="1.25"/>
<circle cx="348.71" cy="96.20" r="1.25"/>
<circle cx="337.35" cy="96.44" r="1.25"/>
<circle cx="351.43" cy="96.07" r="1.25"/>
<circle cx="334.92" cy="96.34" r="1.25"/>
<circle cx="353.58" cy="96.31" r="1.25"/>
<circle cx="332.97" cy="96.44" r="1.25"/>
<circle cx="355.63" cy="96.24" r="1.25"/>
<circle cx="345.34" cy="94.34" r="1.25"/>
<circle cx="341.02" cy="94.42" r="1.25"/>
<circle cx="347.98" cy="94.36" r="1.25"/>
<circle cx="338.61" cy="94.57" r="1.25"/>
<circle cx="349.81" cy="94.20" r="1.25"/>
<circle cx="336.26" cy="94.26" r="1.25"/>
<circle cx="352.20" cy="94.11" r="1.25"/>
<circle cx="333.76" cy="94.26" r="1.25"/>
<circle cx="354.49" cy="94.42" r="1.25"/>
<circle cx="344.24" cy="92.47" r="1.25"/>
<circle cx="342.21" cy="92.43" r="1.25"/>
<circle cx="346.72" cy="92.25" r="1.25"/>
<circle cx="339.46" cy="92.57" r="1.25"/>
<circle cx="348.83" cy="92.43" r="1.25"/>
<circle cx="337.19" cy="92.50" r="1.25"/>
<circle cx="351.42" cy="92.18" r="1.25"/>
<circle cx="343.15" cy="90.62" r="1.25"/>
<circle cx="345.53" cy="90.65" r="1.25"/>
<circle cx="340.86" cy="90.65" r="1.25"/>
<circle cx="347.99" cy="90.36" r="1.25"/>
<circle cx="338.44" cy="90.60" r="1.25"/>
<circle cx="350.17" cy="90.25" r="1.25"/>
<circle cx="336.41" cy="90.54" r="1.25"/>
<circle cx="352.23" cy="90.43" r="1.25"/>
<circle cx="344.53" cy="88.45" r="1.25"/>
<circle cx="346.67" cy="88.65" r="1.25"/>
<circle cx="339.66" cy="88.26" r="1.25"/>
<circle cx="348.85" cy="88.72" r="1.25"/>
<circle cx="345.21" cy="86.45" r="1.25"/>
<circle cx="340.66" cy="86.59" r="1.25"/>
<circle cx="347.81" cy="86.49" r="1.25"/>
<circle cx="338.78" cy="86.39" r="1.25"/>
<circle cx="350.06" cy="86.63" r="1.25"/>
<circle cx="344.42" cy="84.79" r="1.25"/>
<circle cx="341.99" cy="84.68" r="1.25"/>
<circle cx="346.73" cy="84.67" r="1.25"/>
<circle cx="339.79" cy="84.74" r="1.25"/>
<circle cx="348.95" cy="84.67" r="1.25"/>
<circle cx="342.94" cy="82.60" r="1.25"/>
<circle cx="345.56" cy="82.44" r="1.25"/>
<circle cx="340.89" cy="82.67" r="1.25"/>
<circle cx="347.82" cy="82.75" r="1.25"/>
<circle cx="344.52" cy="80.74" r="1.25"/>
<circle cx="341.89" cy="80.80" r="1.25"/>
<circle cx="346.83" cy="80.80" r="1.25"/>
<circle cx="339.53" cy="80.45" r="1.25"/>
<circle cx="348.91" cy="80.67" r="1.25"/>
<circle cx="343.28" cy="78.69" r="1.25"/>
<circle cx="345.28" cy="78.99" r="1.25"/>
<circle cx="344.21" cy="76.79" r="1.25"/>
<circle cx="341.91" cy="76.90" r="1.25"/>
<circle cx="346.83" cy="76.68" r="1.25"/>
<circle cx="343.20" cy="75.00" r="1.25"/>
<circle cx="345.41" cy="74.83" r="1.25"/>
<circle cx="340.83" cy="74.62" r="1.25"/>
<circle cx="347.92" cy="75.04" r="1.25"/>
<circle cx="344.09" cy="73.04" r="1.25"/>
<circle cx="341.89" cy="72.89" r="1.25"/>
<circle cx="346.38" cy="73.02" r="1.25"/>
<circle cx="342.94" cy="71.15" r="1.25"/>
<circle cx="345.58" cy="71.11" r="1.25"/>
<circle cx="340.79" cy="70.81" r="1.25"/>
<circle cx="347.99" cy="71.07" r="1.25"/>
<circle cx="344.32" cy="68.95" r="1.25"/>
<circle cx="341.88" cy="68.87" r="1.25"/>
<circle cx="346.48" cy="69.24" r="1.25"/>
<circle cx="342.99" cy="66.81" r="1.25"/>
<circle cx="345.27" cy="67.05" r="1.25"/>
<circle cx="341.00" cy="66.99" r="1.25"/>
<circle cx="347.91" cy="66.87" r="1.25"/>
<circle cx="344.45" cy="65.03" r="1.25"/>
<circle cx="341.79" cy="64.89" r="1.25"/>
<circle cx="346.58" cy="65.03" r="1.25"/>
<circle cx="343.12" cy="63.35" r="1.25"/>
<circle cx="345.51" cy="63.03" r="1.25"/>
<circle cx="340.68" cy="62.93" r="1.25"/>
<circle cx="347.63" cy="62.98" r="1.25"/>
<circle cx="344.11" cy="61.07" r="1.25"/>
<circle cx="342.20" cy="61.29" r="1.25"/>
<circle cx="346.39" cy="61.40" r="1.25"/>
</g>
<g fill="#4a4aa0" stroke="#383890" stroke-width="0.4">
<circle cx="53.50" cy="201.10" r="1.05"/>
<circle cx="53.50" cy="229.90" r="1.05"/>
<circle cx="53.50" cy="234.80" r="1.05"/>
<circle cx="53.50" cy="239.00" r="1.05"/>
<circle cx="53.50" cy="248.40" r="1.05"/>
<circle cx="53.50" cy="258.70" r="1.05"/>
<circle cx="53.50" cy="262.70" r="1.05"/>
<circle cx="53.50" cy="264.20" r="1.05"/>
<circle cx="53.50" cy="266.50" r="1.05"/>
<circle cx="52.70" cy="268.00" r="1.05"/>
<circle cx="52.40" cy="269.60" r="1.05"/>
<circle cx="54.60" cy="269.90" r="1.05"/>
<circle cx="53.50" cy="271.20" r="1.05"/>
<circle cx="51.50" cy="272.00" r="1.05"/>
<circle cx="55.50" cy="272.30" r="1.05"/>
</g>
<g fill="#5656f2">
<circle cx="38.49" cy="282.15" r="1.3"/>
<circle cx="40.60" cy="281.95" r="1.3"/>
<circle cx="42.76" cy="281.98" r="1.3"/>
<circle cx="44.66" cy="281.78" r="1.3"/>
<circle cx="47.24" cy="282.02" r="1.3"/>
<circle cx="49.49" cy="282.18" r="1.3"/>
<circle cx="51.42" cy="281.69" r="1.3"/>
<circle cx="53.52" cy="281.64" r="1.3"/>
<circle cx="55.50" cy="281.62" r="1.3"/>
<circle cx="57.76" cy="282.11" r="1.3"/>
<circle cx="60.03" cy="281.90" r="1.3"/>
<circle cx="62.07" cy="281.77" r="1.3"/>
<circle cx="68.67" cy="281.79" r="1.3"/>
<circle cx="38.32" cy="279.69" r="1.3"/>
<circle cx="40.54" cy="280.16" r="1.3"/>
<circle cx="43.02" cy="280.16" r="1.3"/>
<circle cx="44.73" cy="280.20" r="1.3"/>
<circle cx="47.34" cy="279.89" r="1.3"/>
<circle cx="49.28" cy="280.12" r="1.3"/>
<circle cx="51.10" cy="279.85" r="1.3"/>
<circle cx="53.65" cy="279.72" r="1.3"/>
<circle cx="55.41" cy="279.69" r="1.3"/>
<circle cx="57.61" cy="279.99" r="1.3"/>
<circle cx="59.76" cy="280.09" r="1.3"/>
<circle cx="62.19" cy="279.72" r="1.3"/>
<circle cx="64.08" cy="279.81" r="1.3"/>
<circle cx="68.43" cy="280.18" r="1.3"/>
<circle cx="46.99" cy="278.21" r="1.3"/>
<circle cx="48.96" cy="278.29" r="1.3"/>
<circle cx="51.20" cy="278.16" r="1.3"/>
<circle cx="53.38" cy="277.74" r="1.3"/>
<circle cx="55.70" cy="277.85" r="1.3"/>
<circle cx="57.72" cy="277.97" r="1.3"/>
<circle cx="59.94" cy="278.04" r="1.3"/>
<circle cx="46.86" cy="275.84" r="1.3"/>
<circle cx="49.39" cy="275.90" r="1.3"/>
<circle cx="51.49" cy="276.31" r="1.3"/>
<circle cx="53.77" cy="276.28" r="1.3"/>
<circle cx="55.60" cy="275.81" r="1.3"/>
<circle cx="58.08" cy="275.89" r="1.3"/>
<circle cx="59.80" cy="276.24" r="1.3"/>
<circle cx="50.15" cy="273.91" r="1.3"/>
<circle cx="52.17" cy="273.94" r="1.3"/>
<circle cx="54.79" cy="274.17" r="1.3"/>
<circle cx="56.98" cy="273.92" r="1.3"/>
</g>
<g fill="#22a832" stroke="#1a7a2a" stroke-width="0.25">
<circle cx="101.60" cy="188.80" r="0.9"/>
<circle cx="101.10" cy="197.00" r="0.9"/>
<circle cx="100.60" cy="200.50" r="0.9"/>
<circle cx="102.60" cy="201.60" r="0.9"/>
<circle cx="101.60" cy="205.50" r="0.9"/>
<circle cx="102.10" cy="208.00" r="0.9"/>
<circle cx="101.60" cy="212.30" r="0.9"/>
<circle cx="101.60" cy="224.90" r="0.9"/>
<circle cx="100.40" cy="229.20" r="0.9"/>
<circle cx="102.20" cy="230.60" r="0.9"/>
<circle cx="101.00" cy="232.20" r="0.9"/>
<circle cx="102.60" cy="233.60" r="0.9"/>
<circle cx="101.60" cy="235.40" r="0.9"/>
<circle cx="100.80" cy="237.40" r="0.9"/>
</g>
<g fill="#1ccc1c" stroke="#0e9a0e" stroke-width="0.3">
<circle cx="101.71" cy="281.71" r="1.15"/>
<circle cx="99.01" cy="281.44" r="1.15"/>
<circle cx="103.84" cy="281.74" r="1.15"/>
<circle cx="96.82" cy="281.43" r="1.15"/>
<circle cx="106.36" cy="281.80" r="1.15"/>
<circle cx="94.11" cy="281.47" r="1.15"/>
<circle cx="109.02" cy="281.79" r="1.15"/>
<circle cx="100.60" cy="279.85" r="1.15"/>
<circle cx="97.85" cy="279.91" r="1.15"/>
<circle cx="105.35" cy="279.74" r="1.15"/>
<circle cx="95.52" cy="279.66" r="1.15"/>
<circle cx="107.37" cy="279.89" r="1.15"/>
<circle cx="93.49" cy="279.81" r="1.15"/>
<circle cx="110.15" cy="279.48" r="1.15"/>
<circle cx="101.57" cy="277.61" r="1.15"/>
<circle cx="99.21" cy="277.65" r="1.15"/>
<circle cx="104.06" cy="277.74" r="1.15"/>
<circle cx="96.79" cy="277.64" r="1.15"/>
<circle cx="106.22" cy="277.72" r="1.15"/>
<circle cx="94.49" cy="278.07" r="1.15"/>
<circle cx="108.93" cy="278.06" r="1.15"/>
<circle cx="100.19" cy="276.08" r="1.15"/>
<circle cx="102.88" cy="275.70" r="1.15"/>
<circle cx="98.22" cy="276.13" r="1.15"/>
<circle cx="105.02" cy="276.11" r="1.15"/>
<circle cx="95.73" cy="275.68" r="1.15"/>
<circle cx="93.33" cy="275.73" r="1.15"/>
<circle cx="110.05" cy="275.95" r="1.15"/>
<circle cx="90.94" cy="275.80" r="1.15"/>
<circle cx="112.20" cy="276.01" r="1.15"/>
<circle cx="88.24" cy="275.64" r="1.15"/>
<circle cx="114.83" cy="275.93" r="1.15"/>
<circle cx="85.96" cy="275.81" r="1.15"/>
<circle cx="116.90" cy="276.20" r="1.15"/>
<circle cx="101.48" cy="273.86" r="1.15"/>
<circle cx="98.95" cy="273.98" r="1.15"/>
<circle cx="104.20" cy="273.70" r="1.15"/>
<circle cx="96.80" cy="274.28" r="1.15"/>
<circle cx="106.38" cy="274.10" r="1.15"/>
<circle cx="94.12" cy="274.00" r="1.15"/>
<circle cx="91.85" cy="274.11" r="1.15"/>
<circle cx="111.06" cy="274.05" r="1.15"/>
<circle cx="89.45" cy="273.87" r="1.15"/>
<circle cx="113.51" cy="273.72" r="1.15"/>
<circle cx="86.95" cy="274.15" r="1.15"/>
<circle cx="115.70" cy="274.16" r="1.15"/>
<circle cx="100.39" cy="272.13" r="1.15"/>
<circle cx="102.67" cy="272.06" r="1.15"/>
<circle cx="98.22" cy="271.87" r="1.15"/>
<circle cx="105.03" cy="271.98" r="1.15"/>
<circle cx="95.32" cy="271.88" r="1.15"/>
<circle cx="107.57" cy="272.33" r="1.15"/>
<circle cx="110.02" cy="271.88" r="1.15"/>
<circle cx="90.69" cy="272.34" r="1.15"/>
<circle cx="112.18" cy="271.80" r="1.15"/>
<circle cx="88.62" cy="271.89" r="1.15"/>
<circle cx="114.72" cy="272.01" r="1.15"/>
<circle cx="85.83" cy="272.23" r="1.15"/>
<circle cx="117.46" cy="272.11" r="1.15"/>
<circle cx="99.24" cy="270.27" r="1.15"/>
<circle cx="104.24" cy="269.97" r="1.15"/>
<circle cx="96.82" cy="270.39" r="1.15"/>
<circle cx="106.28" cy="270.48" r="1.15"/>
<circle cx="94.15" cy="269.93" r="1.15"/>
<circle cx="108.94" cy="269.96" r="1.15"/>
<circle cx="92.22" cy="270.50" r="1.15"/>
<circle cx="111.15" cy="270.27" r="1.15"/>
<circle cx="89.73" cy="270.07" r="1.15"/>
<circle cx="113.37" cy="270.09" r="1.15"/>
<circle cx="115.86" cy="270.37" r="1.15"/>
<circle cx="100.10" cy="268.02" r="1.15"/>
<circle cx="102.70" cy="268.56" r="1.15"/>
<circle cx="98.21" cy="268.51" r="1.15"/>
<circle cx="105.50" cy="268.46" r="1.15"/>
<circle cx="95.46" cy="268.28" r="1.15"/>
<circle cx="93.02" cy="268.23" r="1.15"/>
<circle cx="109.81" cy="268.34" r="1.15"/>
<circle cx="90.99" cy="268.11" r="1.15"/>
<circle cx="112.45" cy="268.18" r="1.15"/>
<circle cx="88.40" cy="268.31" r="1.15"/>
<circle cx="114.63" cy="268.45" r="1.15"/>
<circle cx="85.96" cy="268.58" r="1.15"/>
<circle cx="117.42" cy="268.09" r="1.15"/>
<circle cx="101.39" cy="266.13" r="1.15"/>
<circle cx="99.46" cy="266.25" r="1.15"/>
<circle cx="104.06" cy="266.25" r="1.15"/>
<circle cx="96.51" cy="266.37" r="1.15"/>
<circle cx="106.30" cy="266.23" r="1.15"/>
<circle cx="94.52" cy="266.36" r="1.15"/>
<circle cx="91.76" cy="266.65" r="1.15"/>
<circle cx="89.80" cy="266.51" r="1.15"/>
<circle cx="113.70" cy="266.45" r="1.15"/>
<circle cx="86.98" cy="266.54" r="1.15"/>
<circle cx="115.73" cy="266.49" r="1.15"/>
<circle cx="100.41" cy="264.67" r="1.15"/>
<circle cx="102.73" cy="264.69" r="1.15"/>
<circle cx="98.04" cy="264.45" r="1.15"/>
<circle cx="95.87" cy="264.40" r="1.15"/>
<circle cx="107.85" cy="264.61" r="1.15"/>
<circle cx="92.95" cy="264.49" r="1.15"/>
<circle cx="110.19" cy="264.67" r="1.15"/>
<circle cx="112.35" cy="264.54" r="1.15"/>
<circle cx="101.35" cy="262.43" r="1.15"/>
<circle cx="99.09" cy="262.48" r="1.15"/>
<circle cx="97.06" cy="262.48" r="1.15"/>
<circle cx="106.68" cy="262.35" r="1.15"/>
<circle cx="94.18" cy="262.34" r="1.15"/>
<circle cx="108.63" cy="262.40" r="1.15"/>
<circle cx="92.12" cy="262.33" r="1.15"/>
<circle cx="111.24" cy="262.83" r="1.15"/>
<circle cx="100.53" cy="260.82" r="1.15"/>
<circle cx="103.01" cy="260.49" r="1.15"/>
<circle cx="98.07" cy="260.71" r="1.15"/>
<circle cx="105.37" cy="260.50" r="1.15"/>
<circle cx="95.56" cy="260.65" r="1.15"/>
<circle cx="107.47" cy="260.75" r="1.15"/>
<circle cx="101.84" cy="258.67" r="1.15"/>
<circle cx="98.96" cy="258.89" r="1.15"/>
<circle cx="104.21" cy="259.08" r="1.15"/>
<circle cx="96.98" cy="258.63" r="1.15"/>
<circle cx="106.16" cy="258.76" r="1.15"/>
<circle cx="100.52" cy="256.95" r="1.15"/>
<circle cx="102.93" cy="256.74" r="1.15"/>
<circle cx="97.92" cy="256.60" r="1.15"/>
<circle cx="104.95" cy="256.66" r="1.15"/>
<circle cx="101.79" cy="254.97" r="1.15"/>
<circle cx="98.98" cy="254.70" r="1.15"/>
<circle cx="103.85" cy="254.79" r="1.15"/>
<circle cx="106.32" cy="255.15" r="1.15"/>
<circle cx="100.16" cy="253.25" r="1.15"/>
<circle cx="102.88" cy="253.37" r="1.15"/>
<circle cx="101.66" cy="251.36" r="1.15"/>
<circle cx="100.43" cy="249.49" r="1.15"/>
<circle cx="102.73" cy="249.01" r="1.15"/>
<circle cx="101.50" cy="247.36" r="1.15"/>
<circle cx="100.43" cy="245.44" r="1.15"/>
<circle cx="102.86" cy="245.54" r="1.15"/>
</g>
<g fill="none" stroke="#de6272" stroke-width="0.45">
<path d="M150.00,195.60L150.85,197.13L149.15,197.13Z"/>
<path d="M150.00,204.80L150.85,206.33L149.15,206.33Z"/>
<path d="M150.00,210.90L150.85,212.43L149.15,212.43Z"/>
<path d="M152.05,280.10L152.91,281.63L151.20,281.63Z"/>
<path d="M156.15,280.10L157.00,281.63L155.30,281.63Z"/>
<path d="M135.65,280.10L136.50,281.63L134.80,281.63Z"/>
<path d="M164.35,280.10L165.20,281.63L163.50,281.63Z"/>
<path d="M156.15,277.50L157.00,279.03L155.30,279.03Z"/>
<path d="M139.75,277.50L140.60,279.03L138.90,279.03Z"/>
<path d="M160.25,277.50L161.10,279.03L159.40,279.03Z"/>
<path d="M135.65,277.50L136.50,279.03L134.80,279.03Z"/>
<path d="M164.35,277.50L165.20,279.03L163.50,279.03Z"/>
<path d="M147.95,274.90L148.80,276.43L147.09,276.43Z"/>
<path d="M152.05,274.90L152.91,276.43L151.20,276.43Z"/>
<path d="M139.75,274.90L140.60,276.43L138.90,276.43Z"/>
<path d="M160.25,274.90L161.10,276.43L159.40,276.43Z"/>
<path d="M135.65,274.90L136.50,276.43L134.80,276.43Z"/>
<path d="M164.35,274.90L165.20,276.43L163.50,276.43Z"/>
<path d="M152.05,272.30L152.91,273.83L151.20,273.83Z"/>
<path d="M156.15,272.30L157.00,273.83L155.30,273.83Z"/>
<path d="M139.75,272.30L140.60,273.83L138.90,273.83Z"/>
<path d="M135.65,272.30L136.50,273.83L134.80,273.83Z"/>
<path d="M164.35,272.30L165.20,273.83L163.50,273.83Z"/>
<path d="M152.05,269.70L152.91,271.23L151.20,271.23Z"/>
<path d="M156.15,269.70L157.00,271.23L155.30,271.23Z"/>
<path d="M160.25,269.70L161.10,271.23L159.40,271.23Z"/>
<path d="M135.65,269.70L136.50,271.23L134.80,271.23Z"/>
<path d="M164.35,269.70L165.20,271.23L163.50,271.23Z"/>
<path d="M147.95,267.10L148.80,268.63L147.09,268.63Z"/>
<path d="M143.85,267.10L144.70,268.63L143.00,268.63Z"/>
<path d="M139.75,267.10L140.60,268.63L138.90,268.63Z"/>
<path d="M147.95,264.50L148.80,266.03L147.09,266.03Z"/>
<path d="M152.05,264.50L152.91,266.03L151.20,266.03Z"/>
<path d="M143.85,264.50L144.70,266.03L143.00,266.03Z"/>
<path d="M160.25,264.50L161.10,266.03L159.40,266.03Z"/>
<path d="M152.05,261.90L152.91,263.43L151.20,263.43Z"/>
<path d="M139.75,261.90L140.60,263.43L138.90,263.43Z"/>
<path d="M160.25,261.90L161.10,263.43L159.40,263.43Z"/>
<path d="M147.95,259.30L148.80,260.83L147.09,260.83Z"/>
<path d="M152.05,259.30L152.91,260.83L151.20,260.83Z"/>
<path d="M143.85,259.30L144.70,260.83L143.00,260.83Z"/>
<path d="M139.75,259.30L140.60,260.83L138.90,260.83Z"/>
<path d="M147.95,256.70L148.80,258.23L147.09,258.23Z"/>
<path d="M152.05,256.70L152.91,258.23L151.20,258.23Z"/>
<path d="M143.85,256.70L144.70,258.23L143.00,258.23Z"/>
<path d="M156.15,256.70L157.00,258.23L155.30,258.23Z"/>
<path d="M160.25,256.70L161.10,258.23L159.40,258.23Z"/>
<path d="M147.95,254.10L148.80,255.63L147.09,255.63Z"/>
<path d="M152.05,254.10L152.91,255.63L151.20,255.63Z"/>
<path d="M143.85,254.10L144.70,255.63L143.00,255.63Z"/>
<path d="M147.95,251.50L148.80,253.03L147.09,253.03Z"/>
<path d="M152.05,251.50L152.91,253.03L151.20,253.03Z"/>
<path d="M147.95,248.90L148.80,250.43L147.09,250.43Z"/>
<path d="M152.05,248.90L152.91,250.43L151.20,250.43Z"/>
<path d="M150.00,246.30L150.85,247.83L149.15,247.83Z"/>
</g>
<g fill="#4a4aa0" stroke="#383890" stroke-width="0.4">
<circle cx="270.10" cy="203.10" r="0.95"/>
<circle cx="266.00" cy="222.00" r="0.95"/>
<circle cx="274.50" cy="222.00" r="0.95"/>
<circle cx="271.50" cy="222.80" r="0.95"/>
<circle cx="270.10" cy="228.80" r="0.95"/>
</g>
<g fill="#5c5cf2" stroke="#383890" stroke-width="0.35">
<circle cx="270.60" cy="241.70" r="0.85"/>
<circle cx="267.53" cy="241.70" r="0.85"/>
<circle cx="264.46" cy="241.70" r="0.85"/>
<circle cx="270.60" cy="239.45" r="0.85"/>
<circle cx="270.60" cy="237.20" r="0.85"/>
<circle cx="267.53" cy="237.20" r="0.85"/>
<circle cx="273.67" cy="234.95" r="0.85"/>
<circle cx="270.60" cy="257.50" r="0.85"/>
<circle cx="273.67" cy="257.50" r="0.85"/>
<circle cx="276.74" cy="257.50" r="0.85"/>
<circle cx="267.53" cy="255.25" r="0.85"/>
<circle cx="264.46" cy="255.25" r="0.85"/>
<circle cx="276.74" cy="255.25" r="0.85"/>
<circle cx="279.81" cy="255.25" r="0.85"/>
<circle cx="270.60" cy="253.00" r="0.85"/>
<circle cx="267.53" cy="253.00" r="0.85"/>
<circle cx="273.67" cy="253.00" r="0.85"/>
<circle cx="261.39" cy="253.00" r="0.85"/>
<circle cx="270.60" cy="250.75" r="0.85"/>
<circle cx="267.53" cy="250.75" r="0.85"/>
<circle cx="273.67" cy="250.75" r="0.85"/>
<circle cx="279.81" cy="250.75" r="0.85"/>
<circle cx="270.60" cy="248.50" r="0.85"/>
<circle cx="267.53" cy="248.50" r="0.85"/>
<circle cx="273.67" cy="248.50" r="0.85"/>
<circle cx="264.46" cy="248.50" r="0.85"/>
<circle cx="276.74" cy="248.50" r="0.85"/>
<circle cx="270.60" cy="246.25" r="0.85"/>
<circle cx="267.53" cy="246.25" r="0.85"/>
<circle cx="273.67" cy="246.25" r="0.85"/>
<circle cx="264.46" cy="246.25" r="0.85"/>
<circle cx="276.74" cy="246.25" r="0.85"/>
<circle cx="270.60" cy="244.00" r="0.85"/>
<circle cx="267.53" cy="244.00" r="0.85"/>
<circle cx="264.46" cy="244.00" r="0.85"/>
<circle cx="276.74" cy="244.00" r="0.85"/>
<circle cx="261.39" cy="244.00" r="0.85"/>
<circle cx="270.60" cy="264.50" r="0.85"/>
<circle cx="267.53" cy="264.50" r="0.85"/>
<circle cx="273.67" cy="264.50" r="0.85"/>
<circle cx="261.39" cy="264.50" r="0.85"/>
<circle cx="279.81" cy="264.50" r="0.85"/>
<circle cx="282.88" cy="264.50" r="0.85"/>
<circle cx="270.60" cy="262.25" r="0.85"/>
<circle cx="264.46" cy="262.25" r="0.85"/>
<circle cx="276.74" cy="262.25" r="0.85"/>
<circle cx="261.39" cy="262.25" r="0.85"/>
<circle cx="279.81" cy="262.25" r="0.85"/>
<circle cx="258.32" cy="262.25" r="0.85"/>
<circle cx="282.88" cy="262.25" r="0.85"/>
<circle cx="270.60" cy="260.00" r="0.85"/>
<circle cx="267.53" cy="260.00" r="0.85"/>
<circle cx="273.67" cy="260.00" r="0.85"/>
<circle cx="264.46" cy="260.00" r="0.85"/>
<circle cx="276.74" cy="260.00" r="0.85"/>
<circle cx="261.39" cy="260.00" r="0.85"/>
<circle cx="258.32" cy="260.00" r="0.85"/>
<circle cx="270.60" cy="281.00" r="0.85"/>
<circle cx="273.67" cy="281.00" r="0.85"/>
<circle cx="264.46" cy="281.00" r="0.85"/>
<circle cx="276.74" cy="281.00" r="0.85"/>
<circle cx="261.39" cy="281.00" r="0.85"/>
<circle cx="279.81" cy="281.00" r="0.85"/>
<circle cx="258.32" cy="281.00" r="0.85"/>
<circle cx="282.88" cy="281.00" r="0.85"/>
<circle cx="255.25" cy="281.00" r="0.85"/>
<circle cx="267.53" cy="278.75" r="0.85"/>
<circle cx="273.67" cy="278.75" r="0.85"/>
<circle cx="276.74" cy="278.75" r="0.85"/>
<circle cx="261.39" cy="278.75" r="0.85"/>
<circle cx="279.81" cy="278.75" r="0.85"/>
<circle cx="258.32" cy="278.75" r="0.85"/>
<circle cx="282.88" cy="278.75" r="0.85"/>
<circle cx="267.53" cy="276.50" r="0.85"/>
<circle cx="276.74" cy="276.50" r="0.85"/>
<circle cx="261.39" cy="276.50" r="0.85"/>
<circle cx="282.88" cy="276.50" r="0.85"/>
<circle cx="255.25" cy="276.50" r="0.85"/>
<circle cx="285.95" cy="276.50" r="0.85"/>
<circle cx="267.53" cy="274.25" r="0.85"/>
<circle cx="276.74" cy="274.25" r="0.85"/>
<circle cx="279.81" cy="274.25" r="0.85"/>
<circle cx="258.32" cy="274.25" r="0.85"/>
<circle cx="282.88" cy="274.25" r="0.85"/>
<circle cx="255.25" cy="274.25" r="0.85"/>
<circle cx="270.60" cy="272.00" r="0.85"/>
<circle cx="267.53" cy="272.00" r="0.85"/>
<circle cx="273.67" cy="272.00" r="0.85"/>
<circle cx="261.39" cy="272.00" r="0.85"/>
<circle cx="282.88" cy="272.00" r="0.85"/>
<circle cx="255.25" cy="272.00" r="0.85"/>
<circle cx="270.60" cy="269.75" r="0.85"/>
<circle cx="267.53" cy="269.75" r="0.85"/>
<circle cx="273.67" cy="269.75" r="0.85"/>
<circle cx="264.46" cy="269.75" r="0.85"/>
<circle cx="276.74" cy="269.75" r="0.85"/>
<circle cx="261.39" cy="269.75" r="0.85"/>
<circle cx="258.32" cy="269.75" r="0.85"/>
<circle cx="282.88" cy="269.75" r="0.85"/>
<circle cx="255.25" cy="269.75" r="0.85"/>
<circle cx="285.95" cy="269.75" r="0.85"/>
<circle cx="270.60" cy="267.50" r="0.85"/>
<circle cx="264.46" cy="267.50" r="0.85"/>
<circle cx="279.81" cy="267.50" r="0.85"/>
<circle cx="258.32" cy="267.50" r="0.85"/>
<circle cx="282.88" cy="267.50" r="0.85"/>
<circle cx="255.25" cy="267.50" r="0.85"/>
<circle cx="285.95" cy="267.50" r="0.85"/>
<circle cx="270.60" cy="265.25" r="0.85"/>
<circle cx="273.67" cy="265.25" r="0.85"/>
<circle cx="264.46" cy="265.25" r="0.85"/>
<circle cx="279.81" cy="265.25" r="0.85"/>
<circle cx="258.32" cy="265.25" r="0.85"/>
<circle cx="282.88" cy="265.25" r="0.85"/>
</g>
<g fill="#22a832" stroke="#1a7a2a" stroke-width="0.25">
<circle cx="319.00" cy="186.40" r="0.9"/>
<circle cx="317.70" cy="204.00" r="0.9"/>
<circle cx="319.80" cy="205.50" r="0.9"/>
<circle cx="319.00" cy="212.00" r="0.9"/>
</g>
<g fill="#1ccc1c" stroke="#0e9a0e" stroke-width="0.3">
<circle cx="319.17" cy="281.01" r="1.2"/>
<circle cx="316.54" cy="281.30" r="1.2"/>
<circle cx="321.19" cy="280.86" r="1.2"/>
<circle cx="314.10" cy="280.86" r="1.2"/>
<circle cx="323.70" cy="280.89" r="1.2"/>
<circle cx="311.62" cy="280.74" r="1.2"/>
<circle cx="326.23" cy="280.93" r="1.2"/>
<circle cx="309.58" cy="280.95" r="1.2"/>
<circle cx="328.74" cy="281.15" r="1.2"/>
<circle cx="317.89" cy="278.88" r="1.2"/>
<circle cx="320.40" cy="279.18" r="1.2"/>
<circle cx="322.63" cy="279.14" r="1.2"/>
<circle cx="312.93" cy="278.78" r="1.2"/>
<circle cx="324.76" cy="279.12" r="1.2"/>
<circle cx="310.57" cy="278.99" r="1.2"/>
<circle cx="327.39" cy="279.00" r="1.2"/>
<circle cx="308.44" cy="279.22" r="1.2"/>
<circle cx="329.65" cy="278.72" r="1.2"/>
<circle cx="305.57" cy="279.12" r="1.2"/>
<circle cx="331.98" cy="278.87" r="1.2"/>
<circle cx="319.14" cy="276.98" r="1.2"/>
<circle cx="316.71" cy="276.73" r="1.2"/>
<circle cx="321.51" cy="277.15" r="1.2"/>
<circle cx="313.94" cy="277.00" r="1.2"/>
<circle cx="323.51" cy="276.96" r="1.2"/>
<circle cx="311.55" cy="276.80" r="1.2"/>
<circle cx="326.18" cy="276.77" r="1.2"/>
<circle cx="309.63" cy="277.11" r="1.2"/>
<circle cx="328.69" cy="277.08" r="1.2"/>
<circle cx="306.93" cy="277.09" r="1.2"/>
<circle cx="320.25" cy="275.28" r="1.2"/>
<circle cx="315.41" cy="274.74" r="1.2"/>
<circle cx="322.69" cy="274.83" r="1.2"/>
<circle cx="313.01" cy="275.15" r="1.2"/>
<circle cx="324.89" cy="275.01" r="1.2"/>
<circle cx="310.83" cy="275.14" r="1.2"/>
<circle cx="308.31" cy="274.87" r="1.2"/>
<circle cx="329.76" cy="274.99" r="1.2"/>
<circle cx="306.01" cy="274.79" r="1.2"/>
<circle cx="332.46" cy="275.01" r="1.2"/>
<circle cx="318.86" cy="272.98" r="1.2"/>
<circle cx="316.49" cy="272.92" r="1.2"/>
<circle cx="321.61" cy="273.28" r="1.2"/>
<circle cx="314.30" cy="273.02" r="1.2"/>
<circle cx="323.52" cy="272.92" r="1.2"/>
<circle cx="311.72" cy="273.06" r="1.2"/>
<circle cx="326.08" cy="272.86" r="1.2"/>
<circle cx="328.88" cy="272.80" r="1.2"/>
<circle cx="307.03" cy="273.13" r="1.2"/>
<circle cx="331.22" cy="273.05" r="1.2"/>
<circle cx="317.91" cy="271.07" r="1.2"/>
<circle cx="320.34" cy="271.20" r="1.2"/>
<circle cx="315.19" cy="270.87" r="1.2"/>
<circle cx="322.57" cy="270.74" r="1.2"/>
<circle cx="313.03" cy="271.05" r="1.2"/>
<circle cx="325.17" cy="271.11" r="1.2"/>
<circle cx="310.51" cy="271.26" r="1.2"/>
<circle cx="327.37" cy="270.88" r="1.2"/>
<circle cx="308.38" cy="270.77" r="1.2"/>
<circle cx="329.54" cy="270.78" r="1.2"/>
<circle cx="318.99" cy="269.27" r="1.2"/>
<circle cx="316.62" cy="268.72" r="1.2"/>
<circle cx="321.29" cy="268.85" r="1.2"/>
<circle cx="314.15" cy="268.78" r="1.2"/>
<circle cx="323.59" cy="268.81" r="1.2"/>
<circle cx="311.55" cy="269.15" r="1.2"/>
<circle cx="325.94" cy="269.10" r="1.2"/>
<circle cx="320.40" cy="267.26" r="1.2"/>
<circle cx="315.39" cy="267.14" r="1.2"/>
<circle cx="322.88" cy="266.95" r="1.2"/>
<circle cx="312.76" cy="266.96" r="1.2"/>
<circle cx="325.07" cy="267.30" r="1.2"/>
<circle cx="318.81" cy="264.74" r="1.2"/>
<circle cx="321.14" cy="265.10" r="1.2"/>
<circle cx="323.54" cy="264.72" r="1.2"/>
<circle cx="311.91" cy="264.89" r="1.2"/>
<circle cx="317.59" cy="263.28" r="1.2"/>
<circle cx="320.12" cy="262.81" r="1.2"/>
<circle cx="315.39" cy="262.85" r="1.2"/>
<circle cx="322.36" cy="263.29" r="1.2"/>
<circle cx="312.83" cy="263.06" r="1.2"/>
<circle cx="325.04" cy="262.89" r="1.2"/>
<circle cx="318.99" cy="260.74" r="1.2"/>
<circle cx="321.24" cy="261.06" r="1.2"/>
<circle cx="314.00" cy="260.93" r="1.2"/>
<circle cx="323.54" cy="261.26" r="1.2"/>
<circle cx="311.60" cy="260.99" r="1.2"/>
<circle cx="326.15" cy="261.02" r="1.2"/>
<circle cx="320.11" cy="258.81" r="1.2"/>
<circle cx="315.48" cy="259.06" r="1.2"/>
<circle cx="322.31" cy="259.28" r="1.2"/>
<circle cx="313.21" cy="259.20" r="1.2"/>
<circle cx="324.81" cy="259.28" r="1.2"/>
<circle cx="316.68" cy="257.00" r="1.2"/>
<circle cx="321.44" cy="257.09" r="1.2"/>
<circle cx="314.05" cy="257.23" r="1.2"/>
<circle cx="323.67" cy="257.17" r="1.2"/>
<circle cx="326.24" cy="256.76" r="1.2"/>
<circle cx="318.01" cy="255.27" r="1.2"/>
<circle cx="315.52" cy="254.94" r="1.2"/>
<circle cx="322.84" cy="254.76" r="1.2"/>
<circle cx="312.91" cy="254.79" r="1.2"/>
<circle cx="325.08" cy="255.01" r="1.2"/>
<circle cx="316.39" cy="253.03" r="1.2"/>
<circle cx="321.50" cy="252.80" r="1.2"/>
<circle cx="314.16" cy="253.26" r="1.2"/>
<circle cx="323.67" cy="252.90" r="1.2"/>
<circle cx="317.73" cy="251.29" r="1.2"/>
<circle cx="322.78" cy="251.03" r="1.2"/>
<circle cx="318.80" cy="248.81" r="1.2"/>
<circle cx="316.70" cy="248.72" r="1.2"/>
<circle cx="321.14" cy="249.01" r="1.2"/>
<circle cx="314.19" cy="248.92" r="1.2"/>
<circle cx="323.77" cy="249.17" r="1.2"/>
<circle cx="317.95" cy="247.05" r="1.2"/>
<circle cx="319.99" cy="246.87" r="1.2"/>
<circle cx="318.93" cy="244.90" r="1.2"/>
<circle cx="316.87" cy="245.00" r="1.2"/>
<circle cx="321.64" cy="245.08" r="1.2"/>
<circle cx="323.77" cy="244.75" r="1.2"/>
<circle cx="317.81" cy="243.07" r="1.2"/>
<circle cx="315.43" cy="243.19" r="1.2"/>
<circle cx="316.79" cy="241.10" r="1.2"/>
<circle cx="321.43" cy="241.18" r="1.2"/>
<circle cx="320.19" cy="239.10" r="1.2"/>
<circle cx="319.16" cy="237.17" r="1.2"/>
<circle cx="316.87" cy="236.89" r="1.2"/>
<circle cx="321.68" cy="237.07" r="1.2"/>
<circle cx="317.76" cy="234.89" r="1.2"/>
<circle cx="316.71" cy="233.21" r="1.2"/>
<circle cx="321.37" cy="232.72" r="1.2"/>
<circle cx="317.85" cy="231.13" r="1.2"/>
<circle cx="320.30" cy="231.03" r="1.2"/>
<circle cx="319.00" cy="229.18" r="1.2"/>
<circle cx="316.55" cy="229.18" r="1.2"/>
<circle cx="321.38" cy="228.84" r="1.2"/>
<circle cx="317.53" cy="227.21" r="1.2"/>
<circle cx="320.12" cy="227.21" r="1.2"/>
<circle cx="318.97" cy="225.22" r="1.2"/>
<circle cx="318.02" cy="222.86" r="1.2"/>
<circle cx="320.47" cy="222.94" r="1.2"/>
<circle cx="319.28" cy="221.05" r="1.2"/>
</g>
<g fill="none" stroke="#de6272" stroke-width="0.45">
<path d="M367.20,183.30L368.06,184.83L366.34,184.83Z"/>
<path d="M367.20,202.70L368.06,204.23L366.34,204.23Z"/>
<path d="M365.20,225.30L366.06,226.83L364.34,226.83Z"/>
<path d="M369.20,227.30L370.06,228.83L368.34,228.83Z"/>
<path d="M367.20,233.30L368.06,234.83L366.34,234.83Z"/>
<path d="M367.20,279.30L368.06,280.83L366.34,280.83Z"/>
<path d="M365.05,276.60L365.91,278.13L364.19,278.13Z"/>
<path d="M369.35,276.60L370.20,278.13L368.49,278.13Z"/>
<path d="M373.65,276.60L374.50,278.13L372.79,278.13Z"/>
<path d="M356.45,276.60L357.31,278.13L355.59,278.13Z"/>
<path d="M377.95,276.60L378.81,278.13L377.09,278.13Z"/>
<path d="M352.15,276.60L353.00,278.13L351.29,278.13Z"/>
<path d="M360.75,274.00L361.61,275.53L359.89,275.53Z"/>
<path d="M373.65,274.00L374.50,275.53L372.79,275.53Z"/>
<path d="M356.45,274.00L357.31,275.53L355.59,275.53Z"/>
<path d="M352.15,274.00L353.00,275.53L351.29,275.53Z"/>
<path d="M382.25,274.00L383.11,275.53L381.39,275.53Z"/>
<path d="M369.35,271.40L370.20,272.93L368.49,272.93Z"/>
<path d="M352.15,271.40L353.00,272.93L351.29,272.93Z"/>
<path d="M382.25,271.40L383.11,272.93L381.39,272.93Z"/>
<path d="M360.75,268.80L361.61,270.33L359.89,270.33Z"/>
<path d="M373.65,268.80L374.50,270.33L372.79,270.33Z"/>
<path d="M356.45,268.80L357.31,270.33L355.59,270.33Z"/>
<path d="M352.15,268.80L353.00,270.33L351.29,270.33Z"/>
<path d="M365.05,266.20L365.91,267.73L364.19,267.73Z"/>
<path d="M360.75,266.20L361.61,267.73L359.89,267.73Z"/>
<path d="M356.45,266.20L357.31,267.73L355.59,267.73Z"/>
<path d="M377.95,266.20L378.81,267.73L377.09,267.73Z"/>
<path d="M382.25,266.20L383.11,267.73L381.39,267.73Z"/>
<path d="M360.75,263.60L361.61,265.13L359.89,265.13Z"/>
<path d="M373.65,263.60L374.50,265.13L372.79,265.13Z"/>
<path d="M356.45,263.60L357.31,265.13L355.59,265.13Z"/>
<path d="M377.95,263.60L378.81,265.13L377.09,265.13Z"/>
<path d="M382.25,263.60L383.11,265.13L381.39,265.13Z"/>
<path d="M365.05,261.00L365.91,262.53L364.19,262.53Z"/>
<path d="M369.35,261.00L370.20,262.53L368.49,262.53Z"/>
<path d="M369.35,258.40L370.20,259.93L368.49,259.93Z"/>
<path d="M360.75,258.40L361.61,259.93L359.89,259.93Z"/>
<path d="M373.65,258.40L374.50,259.93L372.79,259.93Z"/>
<path d="M360.75,255.80L361.61,257.33L359.89,257.33Z"/>
<path d="M373.65,255.80L374.50,257.33L372.79,257.33Z"/>
<path d="M369.35,253.20L370.20,254.73L368.49,254.73Z"/>
<path d="M360.75,253.20L361.61,254.73L359.89,254.73Z"/>
<path d="M365.05,250.60L365.91,252.13L364.19,252.13Z"/>
<path d="M373.65,250.60L374.50,252.13L372.79,252.13Z"/>
<path d="M365.05,248.00L365.91,249.53L364.19,249.53Z"/>
<path d="M373.65,248.00L374.50,249.53L372.79,249.53Z"/>
<path d="M365.05,245.40L365.91,246.93L364.19,246.93Z"/>
<path d="M369.35,245.40L370.20,246.93L368.49,246.93Z"/>
<path d="M360.75,245.40L361.61,246.93L359.89,246.93Z"/>
<path d="M365.05,240.20L365.91,241.73L364.19,241.73Z"/>
<path d="M365.05,237.60L365.91,239.13L364.19,239.13Z"/>
<path d="M369.35,237.60L370.20,239.13L368.49,239.13Z"/>
</g>
<g opacity="0.8">
<line x1="43.20" y1="111.70" x2="84.80" y2="111.70" stroke="#111" stroke-width="1.1"/>
<line x1="53.60" y1="109.40" x2="74.40" y2="109.40" stroke="#222" stroke-width="0.95"/>
<line x1="53.60" y1="114.00" x2="74.40" y2="114.00" stroke="#222" stroke-width="0.95"/>
<line x1="64.00" y1="109.40" x2="64.00" y2="114.00" stroke="#222" stroke-width="0.95"/>
</g>
<g opacity="0.5">
<line x1="106.20" y1="99.70" x2="148.20" y2="99.70" stroke="#111" stroke-width="1.1"/>
<line x1="116.90" y1="97.10" x2="137.50" y2="97.10" stroke="#222" stroke-width="0.95"/>
<line x1="116.90" y1="102.30" x2="137.50" y2="102.30" stroke="#222" stroke-width="0.95"/>
<line x1="127.20" y1="97.10" x2="127.20" y2="102.30" stroke="#222" stroke-width="0.95"/>
</g>
<g opacity="0.9">
<line x1="259.75" y1="97.40" x2="301.75" y2="97.40" stroke="#111" stroke-width="1.1"/>
<line x1="269.75" y1="94.80" x2="291.75" y2="94.80" stroke="#222" stroke-width="0.95"/>
<line x1="269.75" y1="100.00" x2="291.75" y2="100.00" stroke="#222" stroke-width="0.95"/>
<line x1="280.75" y1="94.80" x2="280.75" y2="100.00" stroke="#222" stroke-width="0.95"/>
</g>
<g opacity="0.35">
<line x1="323.20" y1="95.30" x2="365.40" y2="95.30" stroke="#111" stroke-width="1.1"/>
<line x1="334.80" y1="93.00" x2="353.80" y2="93.00" stroke="#222" stroke-width="0.95"/>
<line x1="334.80" y1="97.60" x2="353.80" y2="97.60" stroke="#222" stroke-width="0.95"/>
<line x1="344.30" y1="93.00" x2="344.30" y2="97.60" stroke="#222" stroke-width="0.95"/>
</g>
<g opacity="0.8">
<line x1="37.75" y1="276.80" x2="69.25" y2="276.80" stroke="#111" stroke-width="1.1"/>
<line x1="45.70" y1="274.30" x2="61.30" y2="274.30" stroke="#222" stroke-width="0.95"/>
<line x1="45.70" y1="279.30" x2="61.30" y2="279.30" stroke="#222" stroke-width="0.95"/>
<line x1="53.50" y1="274.30" x2="53.50" y2="279.30" stroke="#222" stroke-width="0.95"/>
</g>
<g opacity="0.85">
<line x1="85.60" y1="263.40" x2="117.60" y2="263.40" stroke="#111" stroke-width="1.1"/>
<line x1="93.60" y1="260.00" x2="109.60" y2="260.00" stroke="#222" stroke-width="0.95"/>
<line x1="93.60" y1="266.80" x2="109.60" y2="266.80" stroke="#222" stroke-width="0.95"/>
<line x1="101.60" y1="260.00" x2="101.60" y2="266.80" stroke="#222" stroke-width="0.95"/>
</g>
<g opacity="1.0">
<line x1="134.00" y1="263.00" x2="166.00" y2="263.00" stroke="#111" stroke-width="1.1"/>
<line x1="142.00" y1="258.00" x2="158.00" y2="258.00" stroke="#222" stroke-width="0.95"/>
<line x1="142.00" y1="268.00" x2="158.00" y2="268.00" stroke="#222" stroke-width="0.95"/>
<line x1="150.00" y1="258.00" x2="150.00" y2="268.00" stroke="#222" stroke-width="0.95"/>
</g>
<g opacity="0.9">
<line x1="253.60" y1="261.15" x2="286.60" y2="261.15" stroke="#111" stroke-width="1.1"/>
<line x1="260.10" y1="258.40" x2="280.10" y2="258.40" stroke="#222" stroke-width="0.95"/>
<line x1="260.10" y1="263.90" x2="280.10" y2="263.90" stroke="#222" stroke-width="0.95"/>
<line x1="270.10" y1="258.40" x2="270.10" y2="263.90" stroke="#222" stroke-width="0.95"/>
</g>
<g opacity="0.9">
<line x1="302.80" y1="258.40" x2="335.20" y2="258.40" stroke="#111" stroke-width="1.1"/>
<line x1="311.10" y1="254.90" x2="326.90" y2="254.90" stroke="#222" stroke-width="0.95"/>
<line x1="311.10" y1="261.90" x2="326.90" y2="261.90" stroke="#222" stroke-width="0.95"/>
<line x1="319.00" y1="254.90" x2="319.00" y2="261.90" stroke="#222" stroke-width="0.95"/>
</g>
<g opacity="1.0">
<line x1="351.20" y1="257.70" x2="383.20" y2="257.70" stroke="#111" stroke-width="1.1"/>
<line x1="359.20" y1="252.50" x2="375.20" y2="252.50" stroke="#222" stroke-width="0.95"/>
<line x1="359.20" y1="262.80" x2="375.20" y2="262.80" stroke="#222" stroke-width="0.95"/>
<line x1="367.20" y1="252.50" x2="367.20" y2="262.80" stroke="#222" stroke-width="0.95"/>
</g>
<path d="M53.50,170.80 L53.50,169.20 L150.00,169.20 L150.00,170.80" fill="none" stroke="#444" stroke-width="0.9"/>
<text x="101.75" y="171.00" font-size="6.4" font-weight="normal" text-anchor="middle" fill="#333" stroke="#333" stroke-width="0.15" >****</text>
<path d="M101.60,177.40 L101.60,175.80 L150.00,175.80 L150.00,177.40" fill="none" stroke="#444" stroke-width="0.9"/>
<text x="125.80" y="174.90" font-size="5.2" font-weight="normal" text-anchor="middle" fill="#333" stroke="#333" stroke-width="0.15" >ns</text>
<path d="M53.50,183.40 L53.50,181.80 L101.60,181.80 L101.60,183.40" fill="none" stroke="#444" stroke-width="0.9"/>
<text x="77.55" y="183.60" font-size="6.4" font-weight="normal" text-anchor="middle" fill="#333" stroke="#333" stroke-width="0.15" >****</text>
<path d="M270.10,170.10 L270.10,168.50 L367.20,168.50 L367.20,170.10" fill="none" stroke="#444" stroke-width="0.9"/>
<text x="318.65" y="169.00" font-size="5.2" font-weight="normal" text-anchor="middle" fill="#333" stroke="#333" stroke-width="0.15" >ns</text>
<path d="M319.00,176.90 L319.00,175.30 L367.20,175.30 L367.20,176.90" fill="none" stroke="#444" stroke-width="0.9"/>
<text x="343.10" y="174.90" font-size="5.2" font-weight="normal" text-anchor="middle" fill="#333" stroke="#333" stroke-width="0.15" >ns</text>
<path d="M270.10,183.20 L270.10,181.60 L319.00,181.60 L319.00,183.20" fill="none" stroke="#444" stroke-width="0.9"/>
<text x="294.55" y="180.90" font-size="5.2" font-weight="normal" text-anchor="middle" fill="#333" stroke="#333" stroke-width="0.15" >ns</text>
<text x="-0.40" y="6.50" font-size="8.0" font-weight="bold" text-anchor="start" fill="#111" stroke="#111" stroke-width="0.25" >A</text>
<text x="213.40" y="6.50" font-size="8.0" font-weight="bold" text-anchor="start" fill="#111" stroke="#111" stroke-width="0.25" >B</text>
<text x="-0.40" y="161.40" font-size="8.0" font-weight="bold" text-anchor="start" fill="#111" stroke="#111" stroke-width="0.25" >C</text>
<text x="213.40" y="161.40" font-size="8.0" font-weight="bold" text-anchor="start" fill="#111" stroke="#111" stroke-width="0.25" >D</text>
<text x="124.80" y="13.10" font-size="6.9" font-weight="normal" text-anchor="start" fill="#222" stroke="#222" stroke-width="0.15" ><tspan font-style="italic">P</tspan> &lt; 0.001</text>
<text x="342.30" y="13.20" font-size="6.9" font-weight="normal" text-anchor="start" fill="#222" stroke="#222" stroke-width="0.15" ><tspan font-style="italic">P</tspan> = 0.275</text>
</g>
</svg></body></html>
